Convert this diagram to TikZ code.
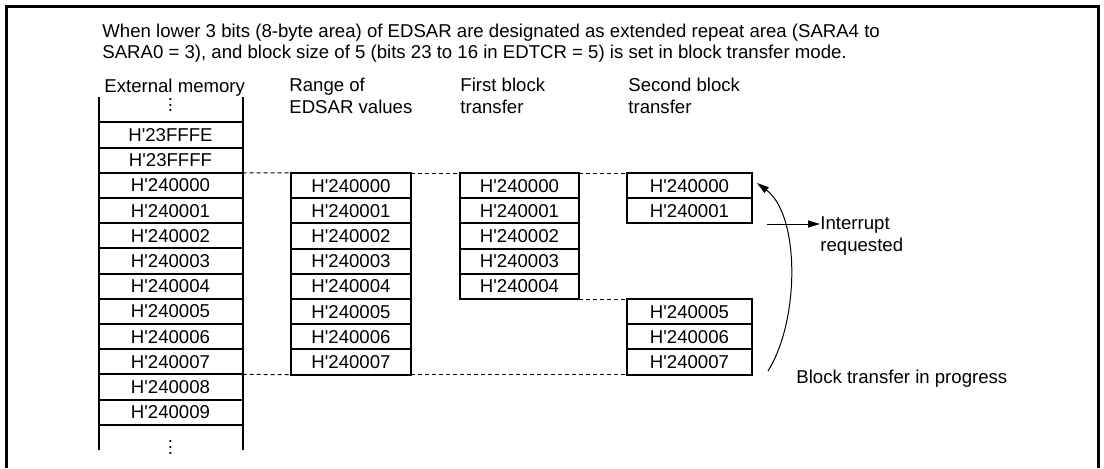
\documentclass[tikz,border=0pt]{standalone}
\usepackage{fontspec}
\setmainfont{Liberation Sans}[Ligatures=TeXOff]
\usetikzlibrary{arrows.meta, positioning}

\newcommand\coldots{\vbox{\baselineskip=2.9pt\lineskiplimit=-10pt\hbox{.}\hbox{.}\hbox{.}}}

\begin{document}
\begin{tikzpicture}[
  x=0.5pt, y=-0.5pt,
  font=\fontsize{9.3pt}{10.6pt}\selectfont,
  cell/.style={draw, line width=1pt, outer sep=0pt, inner sep=0pt, minimum height=12.6pt},
  memcell/.style={cell, minimum width=72pt},
  rangecell/.style={cell, minimum width=60pt},
  firstcell/.style={cell, minimum width=59.5pt},
  secondcell/.style={cell, minimum width=62.5pt},
  gap/.style={outer sep=0pt, inner sep=0pt, minimum width=72pt, minimum height=12.6pt},
  head/.style={anchor=base west, align=left, inner sep=0pt},
  guide/.style={dash pattern=on 2pt off 1.5pt, line width=0.5pt},
  arrow/.style={-{Triangle[length=6pt, width=3.5pt]}, line width=0.5pt},
]
\useasboundingbox (0,0) rectangle (1104,468);

% Frame
\draw[line width=1.5pt] (6,468) -- (6,6) -- (1098,6) -- (1098,468);

% Caption and column heads
\node[head] (title) at (102,58.5) {When lower 3 bits (8-byte area) of EDSAR are designated as extended repeat area (SARA4 to\\SARA0 = 3), and block size of 5 (bits 23 to 16 in EDTCR = 5) is set in block transfer mode.};
\node[head] (hmem) at (104,92) {External memory};
\node[head] (hrange) at (289,113) {Range of\\EDSAR values};
\node[head] (hfirst) at (460,113) {First block\\transfer};
\node[head] (hsecond) at (628,113) {Second block\\transfer};

% External memory
\node[gap] (mem0) at (170.5,109.8) {\smash{\raisebox{-1pt}{\coldots}}};
\node[memcell, below=0pt of mem0] (mem1) {H'23FFFE};
\node[memcell, below=0pt of mem1] (mem2) {H'23FFFF};
\node[memcell, below=0pt of mem2] (mem3) {H'240000};
\node[memcell, below=0pt of mem3] (mem4) {H'240001};
\node[memcell, below=0pt of mem4] (mem5) {H'240002};
\node[memcell, below=0pt of mem5] (mem6) {H'240003};
\node[memcell, below=0pt of mem6] (mem7) {H'240004};
\node[memcell, below=0pt of mem7] (mem8) {H'240005};
\node[memcell, below=0pt of mem8] (mem9) {H'240006};
\node[memcell, below=0pt of mem9] (mem10) {H'240007};
\node[memcell, below=0pt of mem10] (mem11) {H'240008};
\node[memcell, below=0pt of mem11] (mem12) {H'240009};
\node[gap, below=0pt of mem12] (mem13) {\smash{\raisebox{-8.5pt}{\coldots}}};
\draw[line width=1pt] (mem0.north west) -- (mem13.south west);
\draw[line width=1pt] (mem0.north east) -- (mem13.south east);

% Range of EDSAR values
\node[rangecell] (rng0) at (351,185.6) {H'240000};
\node[rangecell, below=0pt of rng0] (rng1) {H'240001};
\node[rangecell, below=0pt of rng1] (rng2) {H'240002};
\node[rangecell, below=0pt of rng2] (rng3) {H'240003};
\node[rangecell, below=0pt of rng3] (rng4) {H'240004};
\node[rangecell, below=0pt of rng4] (rng5) {H'240005};
\node[rangecell, below=0pt of rng5] (rng6) {H'240006};
\node[rangecell, below=0pt of rng6] (rng7) {H'240007};

% First block transfer
\node[firstcell] (fst0) at (519.5,185.6) {H'240000};
\node[firstcell, below=0pt of fst0] (fst1) {H'240001};
\node[firstcell, below=0pt of fst1] (fst2) {H'240002};
\node[firstcell, below=0pt of fst2] (fst3) {H'240003};
\node[firstcell, below=0pt of fst3] (fst4) {H'240004};

% Second block transfer
\node[secondcell] (snd0) at (689.5,185.6) {H'240000};
\node[secondcell, below=0pt of snd0] (snd1) {H'240001};
\node[secondcell, below=0pt of fst4.south -| snd0] (snd5) {H'240005};
\node[secondcell, below=0pt of snd5] (snd6) {H'240006};
\node[secondcell, below=0pt of snd6] (snd7) {H'240007};

% Guide lines
\draw[guide] (mem3.north east) -- (rng0.north west);
\draw[guide] (rng0.north east) -- (fst0.north west);
\draw[guide] (fst0.north east) -- (snd0.north west);
\draw[guide] (fst4.south east) -- (snd5.north west);
\draw[guide] (mem10.south east) -- (rng7.south west);
\draw[guide] (rng7.south east) -- (snd7.south west);

% Notes
\node[head] (irq) at (820,251) {Interrupt\\requested};
\node[head] (progress) at (796,383) {Block transfer in progress};
\coordinate (irqtail) at (767,224);
\coordinate (loopstart) at (768,371);
\coordinate (loopend) at (757,183);
\draw[arrow] (irqtail) -- (irqtail -| irq.west);
\draw[arrow] (loopstart) .. controls (800,320) and (800,215) .. (loopend);
\end{tikzpicture}
\end{document}
